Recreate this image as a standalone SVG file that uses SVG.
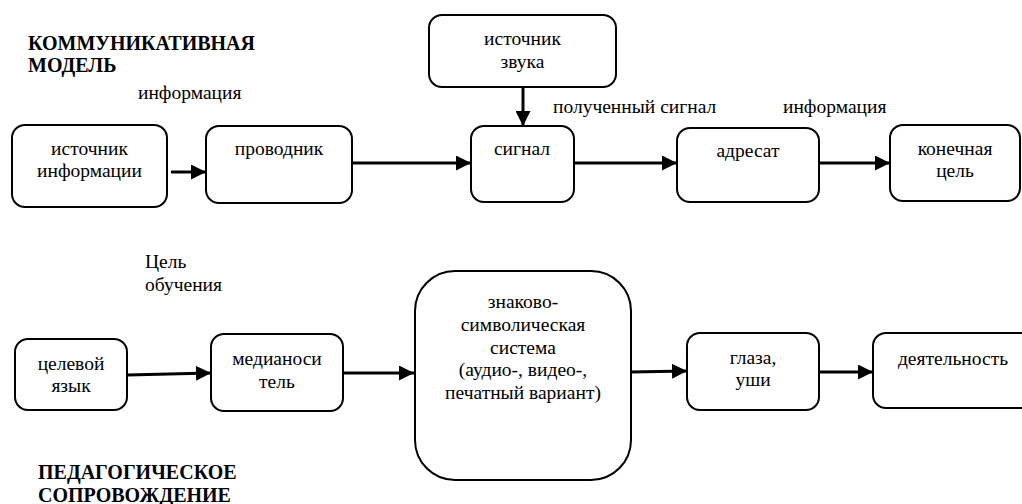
<svg xmlns="http://www.w3.org/2000/svg" width="1022" height="504" viewBox="0 0 1022 504">
<style>
  .box { fill: #ffffff; stroke: #000000; stroke-width: 2; }
  .t { font-size: 19.5px; }
  .c { text-anchor: middle; }
  .title { font-size: 20px; font-weight: bold; }
  .conn { stroke: #000000; stroke-width: 3; fill: none; marker-end: url(#arrow); }
</style>
<defs>
  <marker id="arrow" markerUnits="userSpaceOnUse" markerWidth="15" markerHeight="15" refX="15" refY="7.5" orient="auto">
    <path d="M0,0 L15,7.5 L0,15 z" fill="#000000"/>
  </marker>
</defs>
<rect width="1022" height="504" fill="#ffffff"/>

<g font-family="Liberation Serif, Times New Roman, Times, Tinos, Noto Serif, DejaVu Serif, serif" fill="#000000">
<g id="labels">
  <text class="title" x="28" y="50">КОММУНИКАТИВНАЯ</text>
  <text class="title" x="28" y="72">МОДЕЛЬ</text>
  <text class="t" x="138" y="99">информация</text>
  <text class="t" x="553" y="113">полученный сигнал</text>
  <text class="t" x="783" y="113">информация</text>
  <text class="t" x="145" y="268">Цель</text>
  <text class="t" x="145" y="291">обучения</text>
  <text class="title" x="38" y="479">ПЕДАГОГИЧЕСКОЕ</text>
  <text class="title" x="38" y="502">СОПРОВОЖДЕНИЕ</text>
</g>

<g id="connectors">
  <line class="conn" x1="171" y1="172" x2="206" y2="172"/>
  <line class="conn" x1="352" y1="163" x2="471" y2="163"/>
  <line class="conn" x1="523" y1="87" x2="523" y2="126"/>
  <line class="conn" x1="574" y1="163" x2="677" y2="163"/>
  <line class="conn" x1="819" y1="163" x2="890" y2="163"/>
  <line class="conn" x1="127" y1="375" x2="211" y2="373"/>
  <line class="conn" x1="343" y1="373" x2="414" y2="373"/>
  <line class="conn" x1="631" y1="372" x2="687" y2="371"/>
  <line class="conn" x1="819" y1="372" x2="873" y2="372"/>
</g>

<g id="node-source">
  <rect class="box" x="12" y="125" width="155" height="82" rx="13"/>
  <text class="t c" x="89.5" y="155">источник</text>
  <text class="t c" x="89.5" y="177">информации</text>
</g>
<g id="node-conductor">
  <rect class="box" x="206" y="126" width="146" height="77" rx="13"/>
  <text class="t c" x="279" y="155">проводник</text>
</g>
<g id="node-sound">
  <rect class="box" x="429" y="15" width="187" height="72" rx="13"/>
  <text class="t c" x="522.5" y="45">источник</text>
  <text class="t c" x="522.5" y="68">звука</text>
</g>
<g id="node-signal">
  <rect class="box" x="471" y="126" width="103" height="76" rx="13"/>
  <text class="t c" x="522" y="155">сигнал</text>
</g>
<g id="node-addressee">
  <rect class="box" x="677" y="128" width="142" height="74" rx="13"/>
  <text class="t c" x="748" y="157">адресат</text>
</g>
<g id="node-goal">
  <rect class="box" x="890" y="125" width="130" height="76" rx="13"/>
  <text class="t c" x="955" y="155">конечная</text>
  <text class="t c" x="955" y="177">цель</text>
</g>
<g id="node-target-language">
  <rect class="box" x="15" y="339" width="112" height="71" rx="13"/>
  <text class="t c" x="71" y="370">целевой</text>
  <text class="t c" x="71" y="392">язык</text>
</g>
<g id="node-media">
  <rect class="box" x="211" y="334" width="132" height="77" rx="13"/>
  <text class="t c" x="277" y="365">медианоси</text>
  <text class="t c" x="277" y="388">тель</text>
</g>
<g id="node-sign-system">
  <rect class="box" x="415" y="271" width="216" height="209" rx="40"/>
  <text class="t c" x="523" y="308">знаково-</text>
  <text class="t c" x="523" y="331">символическая</text>
  <text class="t c" x="523" y="354">система</text>
  <text class="t c" x="523" y="376">(аудио-, видео-,</text>
  <text class="t c" x="523" y="399">печатный вариант)</text>
</g>
<g id="node-eyes-ears">
  <rect class="box" x="687" y="333" width="132" height="77" rx="13"/>
  <text class="t c" x="753" y="364">глаза,</text>
  <text class="t c" x="753" y="386">уши</text>
</g>
<g id="node-activity">
  <rect class="box" x="873" y="333" width="165" height="75" rx="13"/>
  <text class="t c" x="953" y="365">деятельность</text>
</g>
</g>
</svg>
